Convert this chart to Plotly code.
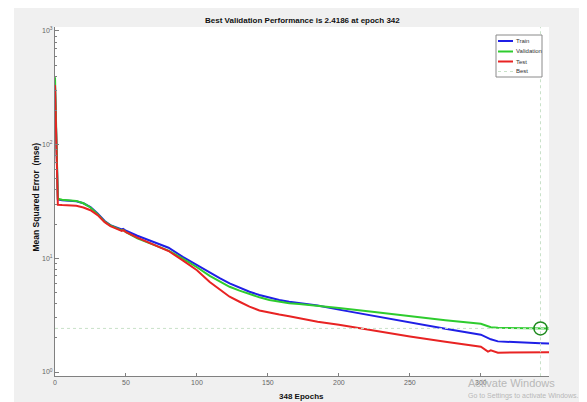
import plotly.graph_objects as go

epochs = [0, 2, 5, 10, 15, 20, 25, 30, 35, 39, 44, 47, 48, 50, 58, 70, 80, 90, 95, 100,
          109, 116, 123, 130, 137, 144, 151, 158, 165, 172, 185, 200, 225, 250, 275, 300,
          305, 307, 312, 325, 342, 348]
train = [330, 33, 32.5, 32.2, 31.8, 30.5, 28.2, 24.8, 21.3, 19.6, 18.5, 18.0, 18.2, 17.5, 15.8,
         13.8, 12.4, 10.3, 9.47, 8.75, 7.47, 6.7, 6.03, 5.5, 5.08, 4.76, 4.5, 4.3, 4.16, 4.07,
         3.85, 3.54, 3.1, 2.70, 2.40, 2.13, 1.99, 1.94, 1.86, 1.82, 1.79, 1.78]
validation = [392, 33.5, 32.8, 32.4, 32.0, 30.5, 28.0, 24.5, 21.0, 19.5, 18.2, 17.6, 17.8, 17.0,
              15.0, 13.0, 11.7, 9.95, 9.15, 8.35, 7.0, 6.25, 5.62, 5.2, 4.82, 4.54, 4.3, 4.13,
              4.02, 3.96, 3.84, 3.66, 3.38, 3.09, 2.86, 2.66, 2.52, 2.48, 2.45, 2.43, 2.4186,
              2.42]
test = [335, 29.6, 29.4, 29.2, 29.0, 28.0, 26.5, 24.0, 20.8, 19.2, 18.0, 17.4, 17.7, 17.0, 15.2,
        13.2, 11.6, 9.6, 8.7, 7.85, 6.2, 5.3, 4.6, 4.15, 3.76, 3.48, 3.32, 3.2, 3.1, 2.97,
        2.77, 2.60, 2.31, 2.05, 1.85, 1.67, 1.51, 1.55, 1.48, 1.48, 1.49, 1.49]
best_epoch = 342
best_value = 2.4186
n_epochs = 348

ytick_vals = [1, 10, 100, 1000]
ytick_text = ["10<sup>0</sup>", "10<sup>1</sup>", "10<sup>2</sup>", "10<sup>3</sup>"]
xtick_vals = [0, 50, 100, 150, 200, 250, 300]

best_color = "rgb(200,225,200)"

fig = go.Figure()
fig.add_trace(go.Scatter(x=epochs, y=train, mode="lines", name="Train",
                         line=dict(color="#1f1fe6", width=2)))
fig.add_trace(go.Scatter(x=epochs, y=validation, mode="lines", name="Validation",
                         line=dict(color="#2ecc2e", width=2)))
fig.add_trace(go.Scatter(x=epochs, y=test, mode="lines", name="Test",
                         line=dict(color="#e82323", width=2)))
fig.add_trace(go.Scatter(x=[0, n_epochs], y=[best_value, best_value], mode="lines", name="Best",
                         line=dict(color=best_color, width=1, dash="dot")))
fig.add_trace(go.Scatter(x=[best_epoch, best_epoch], y=[0.5, 2000], mode="lines",
                         showlegend=False, line=dict(color=best_color, width=1, dash="dot")))
fig.add_trace(go.Scatter(x=[best_epoch], y=[best_value], mode="markers", showlegend=False,
                         marker=dict(symbol="circle-open", size=13,
                                     line=dict(color="#1e8a1e", width=1.5), color="#1e8a1e")))

# page body has an 8px margin; figure sits at (8, 8) in the window
OFF = 8
FW, FH = 587 - OFF, 402 - OFF
L, T, W, H = 55 - OFF, 27 - OFF, 494, 349


def px(xp):
    return (xp - OFF - L) / W


def py(yp):
    return (T + H - (yp - OFF)) / H


shapes = [
    dict(type="rect", xref="paper", yref="paper", x0=px(0), x1=px(14), y0=py(410), y1=py(0),
         fillcolor="white", line=dict(width=0), layer="below"),
    # legend box
    dict(type="rect", xref="paper", yref="paper", x0=px(496), x1=px(542), y0=py(77), y1=py(35),
         fillcolor="white", line=dict(color="#8a8a8a", width=1)),
]
annotations = []
leg = [("Train", "#1f1fe6", 41, "solid", 2), ("Validation", "#2ecc2e", 51.5, "solid", 2),
       ("Test", "#e82323", 61.5, "solid", 2), ("Best", best_color, 71.5, "dot", 1)]
for name, col, yy, dash, w in leg:
    shapes.append(dict(type="line", xref="paper", yref="paper", x0=px(498), x1=px(513),
                       y0=py(yy), y1=py(yy), line=dict(color=col, width=w, dash=dash)))
    annotations.append(dict(text=name, xref="paper", yref="paper", x=px(514), y=py(yy),
                            xanchor="left", yanchor="middle", showarrow=False,
                            font=dict(size=6, color="#333333", family="Liberation Sans")))

annotations += [
    dict(text="<b>Best Validation Performance is 2.4186 at epoch 342</b>", xref="paper",
         yref="paper", x=px(302), y=py(20), xanchor="center", yanchor="middle",
         showarrow=False, font=dict(size=8, color="#111111")),
    dict(text="<b>348 Epochs</b>", xref="paper", yref="paper", x=px(301), y=py(396),
         xanchor="center", yanchor="middle", showarrow=False,
         font=dict(size=8, color="#111111")),
    dict(text="<b>Mean Squared Error  (mse)</b>", xref="paper", yref="paper", x=px(35),
         y=py(197.5), xanchor="center", yanchor="middle", showarrow=False, textangle=-90,
         font=dict(size=8.5, color="#111111")),
    dict(text="Activate Windows", xref="paper", yref="paper", x=px(466), y=py(383),
         xanchor="left", yanchor="middle", showarrow=False,
         font=dict(size=11, color="#b8b8b8", family="Liberation Sans")),
    dict(text="Go to Settings to activate Windows.", xref="paper", yref="paper", x=px(466),
         y=py(396), xanchor="left", yanchor="middle", showarrow=False,
         font=dict(size=7, color="#b8b8b8", family="Liberation Sans")),
]

fig.update_layout(
    width=FW, height=FH,
    margin=dict(l=L, r=FW - L - W, t=T, b=FH - T - H, autoexpand=False),
    paper_bgcolor="#f0f0f0", plot_bgcolor="white",
    showlegend=False,
    font=dict(family="Liberation Sans", color="#222222"),
    shapes=shapes, annotations=annotations,
)
fig.update_xaxes(range=[0, n_epochs], tickvals=xtick_vals, ticks="inside", ticklen=3,
                 tickcolor="#808080", showline=True, linecolor="#808080", linewidth=1,
                 showgrid=False, zeroline=False, tickfont=dict(size=7, color="#666666"),
                 automargin=False)
fig.update_yaxes(type="log", range=[-0.035, 3.035], tickvals=ytick_vals, ticktext=ytick_text,
                 ticks="inside", ticklen=4, tickcolor="#808080", showline=True,
                 linecolor="#808080", linewidth=1, showgrid=False, zeroline=False,
                 tickfont=dict(size=7, color="#666666"), automargin=False,
                 minor=dict(ticks="inside", ticklen=2, tickcolor="#808080",
                            tickvals=[m * d for d in [1, 10, 100] for m in range(2, 10)]))

fig.write_html("out.html")
